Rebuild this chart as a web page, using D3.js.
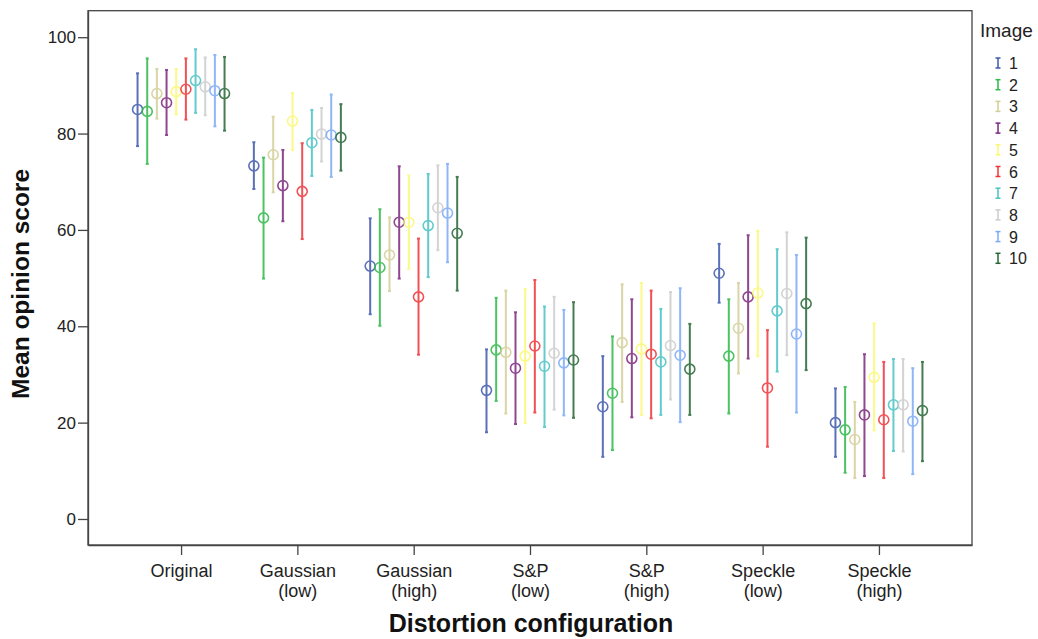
<!DOCTYPE html>
<html>
<head>
<meta charset="utf-8">
<script src="https://cdn.jsdelivr.net/npm/d3@7"></script>
<style>
  body { margin: 0; background: #fff; }
  svg text { font-family: "Liberation Sans", Arial, sans-serif; }
</style>
</head>
<body>
<div id="chart"></div>
<script>
// categories (line-broken labels) and series
const categories = ["Original", "Gaussian\n(low)", "Gaussian\n(high)", "S&P\n(low)", "S&P\n(high)", "Speckle\n(low)", "Speckle\n(high)"];
const images = ["1", "2", "3", "4", "5", "6", "7", "8", "9", "10"];
const colors = ["#3E58AC", "#2EB848", "#D3CE97", "#7C277D", "#FBF873", "#EF3338", "#48C2C5", "#CCCCCC", "#7BAAF7", "#256634"];
const yTicks = [0, 20, 40, 60, 80, 100];

// mean score per image, one row per distortion
const means = [
  [85.0, 84.6, 88.3, 86.4, 88.7, 89.2, 91.0, 89.7, 88.9, 88.3],
  [73.3, 62.5, 75.6, 69.2, 82.6, 68.0, 78.1, 79.9, 79.7, 79.2],
  [52.5, 52.2, 54.8, 61.6, 61.6, 46.1, 60.9, 64.6, 63.5, 59.3],
  [26.7, 35.1, 34.6, 31.3, 33.8, 35.9, 31.7, 34.4, 32.4, 33.0],
  [23.3, 26.1, 36.6, 33.3, 35.3, 34.2, 32.6, 36.0, 34.0, 31.1],
  [51.0, 33.8, 39.6, 46.1, 46.9, 27.2, 43.2, 46.8, 38.4, 44.7],
  [20.0, 18.5, 16.5, 21.6, 29.4, 20.6, 23.7, 23.7, 20.3, 22.5]
];
// upper 95% CI bound
const upper = [
  [92.5, 95.6, 93.4, 93.2, 93.4, 95.6, 97.5, 95.8, 96.3, 95.9],
  [78.2, 75.0, 83.5, 76.6, 88.4, 78.0, 84.9, 85.3, 88.1, 86.1],
  [62.4, 64.3, 62.6, 73.2, 71.3, 58.2, 71.6, 73.4, 73.7, 71.0],
  [35.2, 45.9, 47.4, 42.9, 47.7, 49.6, 44.1, 46.1, 43.4, 45.0],
  [33.8, 37.9, 48.7, 45.6, 49.0, 47.4, 43.6, 47.1, 47.9, 40.5],
  [57.1, 45.6, 49.0, 58.9, 59.8, 39.2, 56.0, 59.5, 54.8, 58.4],
  [27.1, 27.4, 24.3, 34.2, 40.6, 32.6, 33.2, 33.2, 31.3, 32.6]
];
// lower 95% CI bound
const lower = [
  [77.4, 73.7, 83.1, 79.7, 84.0, 82.9, 84.3, 83.8, 81.5, 80.6],
  [68.5, 49.9, 67.8, 61.8, 76.6, 58.1, 71.2, 74.2, 71.0, 72.3],
  [42.5, 40.1, 47.3, 49.9, 51.9, 34.1, 50.2, 55.8, 53.3, 47.4],
  [18.0, 24.5, 21.9, 19.7, 19.9, 22.1, 19.1, 22.7, 21.5, 21.0],
  [12.9, 14.3, 24.3, 21.1, 21.6, 20.9, 21.6, 24.8, 20.1, 21.6],
  [44.9, 21.9, 30.2, 33.3, 33.8, 15.0, 30.6, 34.0, 22.1, 30.9],
  [12.9, 9.6, 8.5, 8.9, 18.4, 8.5, 14.1, 14.0, 9.3, 12.0]
];

const width = 1038, height = 639;
const plotL = 88, plotR = 972, plotT = 10.7, plotB = 545;

const svg = d3.select("#chart").append("svg")
  .attr("width", width)
  .attr("height", height);

const x = d3.scalePoint().domain(categories).range([plotL, plotR]).padding(0.8);
const xi = d3.scalePoint().domain(images).range([-43.5, 43.5]);
const y = d3.scaleLinear().domain([-5.4, 105.5]).range([plotB, plotT]);

// frame
svg.append("rect")
  .attr("x", plotL).attr("y", plotT)
  .attr("width", plotR - plotL).attr("height", plotB - plotT)
  .attr("fill", "none").attr("stroke", "#444").attr("stroke-width", 1.3);

// y axis
const yAxis = svg.append("g")
  .attr("transform", `translate(${plotL},0)`)
  .call(d3.axisLeft(y).tickValues(yTicks).tickSize(10).tickSizeOuter(0).tickPadding(2));
yAxis.select(".domain").attr("stroke", "#444").attr("stroke-width", 1.3);
yAxis.selectAll(".tick line").attr("stroke", "#444").attr("stroke-width", 1.3);
yAxis.selectAll(".tick text").attr("font-size", 17).attr("fill", "#222")
  .attr("font-family", "Liberation Sans, Arial, sans-serif");

// x axis
const xAxis = svg.append("g")
  .attr("transform", `translate(0,${plotB})`)
  .call(d3.axisBottom(x).tickSize(10).tickSizeOuter(0).tickFormat(""));
xAxis.select(".domain").attr("stroke", "#444").attr("stroke-width", 1.3);
xAxis.selectAll(".tick line").attr("stroke", "#444").attr("stroke-width", 1.3);
xAxis.selectAll(".tick").each(function(d) {
  const t = d3.select(this).append("text")
    .attr("text-anchor", "middle")
    .attr("font-size", 18).attr("fill", "#222");
  d.split("\n").forEach((line, k) => {
    t.append("tspan").attr("x", 0).attr("y", 32 + k * 20).text(line);
  });
});

// axis titles
svg.append("text")
  .attr("x", 531).attr("y", 632)
  .attr("text-anchor", "middle")
  .attr("font-size", 25).attr("font-weight", "bold").attr("fill", "#111")
  .text("Distortion configuration");
svg.append("text")
  .attr("transform", "translate(29,284) rotate(-90)")
  .attr("text-anchor", "middle")
  .attr("font-size", 24.5).attr("font-weight", "bold").attr("fill", "#111")
  .text("Mean opinion score");

// error bars
const plot = svg.append("g");
categories.forEach((cat, ci) => {
  images.forEach((img, ii) => {
    const cx = x(cat) + xi(img);
    const g = plot.append("g").attr("stroke", colors[ii]).attr("fill", "none").attr("opacity", 0.85);
    g.append("line")
      .attr("x1", cx).attr("x2", cx)
      .attr("y1", y(upper[ci][ii])).attr("y2", y(lower[ci][ii]))
      .attr("stroke-width", 2);
    [upper[ci][ii], lower[ci][ii]].forEach(v => {
      g.append("line")
        .attr("x1", cx - 1.5).attr("x2", cx + 1.5)
        .attr("y1", y(v)).attr("y2", y(v))
        .attr("stroke-width", 2);
    });
    g.append("circle")
      .attr("cx", cx).attr("cy", y(means[ci][ii]))
      .attr("r", 5)
      .attr("stroke-width", 1.6);
  });
});

// legend
svg.append("text")
  .attr("x", 980).attr("y", 37)
  .attr("font-size", 19).attr("fill", "#222")
  .text("Image");
images.forEach((img, ii) => {
  const ly = 63 + ii * 21.7;
  const g = svg.append("g").attr("stroke", colors[ii]).attr("stroke-width", 1.5);
  g.append("line").attr("x1", 998).attr("x2", 998).attr("y1", ly - 5).attr("y2", ly + 5);
  g.append("line").attr("x1", 995.5).attr("x2", 1000.5).attr("y1", ly - 5).attr("y2", ly - 5);
  g.append("line").attr("x1", 995.5).attr("x2", 1000.5).attr("y1", ly + 5).attr("y2", ly + 5);
  svg.append("text")
    .attr("x", 1009).attr("y", ly + 6)
    .attr("font-size", 16).attr("fill", "#222")
    .text(img);
});
</script>
</body>
</html>
